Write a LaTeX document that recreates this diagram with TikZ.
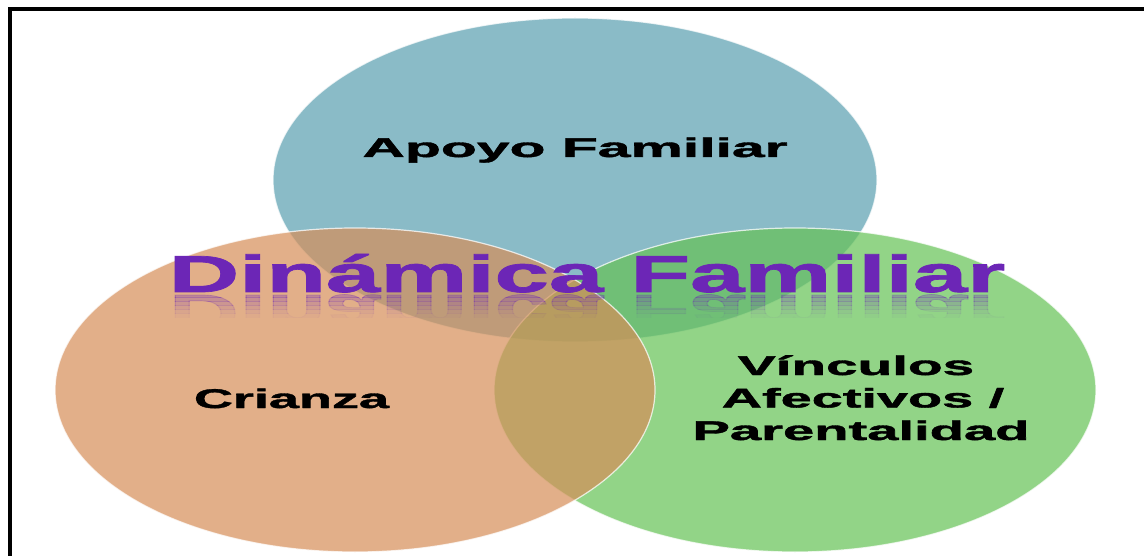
\documentclass[tikz,border=0pt]{standalone}
\usepackage{fontspec}
\setmainfont{Liberation Sans}
\newfontfamily\heavyfont[BoldFeatures={FakeBold=1.3}]{Liberation Sans}
\usetikzlibrary{shapes.geometric}
\definecolor{bluebase}{RGB}{89,159,176}
\definecolor{orangebase}{RGB}{214,142,88}
\definecolor{greenbase}{RGB}{101,194,85}
\definecolor{titlepurple}{RGB}{108,38,182}
\begin{document}
\begin{tikzpicture}[x=1pt,y=-1pt,
  bubble/.style={ellipse, inner sep=0pt, fill opacity=0.7, draw=white, draw opacity=0.75, line width=1.2pt},
  lbl/.style={font=\heavyfont\bfseries\fontsize{27}{33}\selectfont, text=black, inner sep=0pt, anchor=base},
  ttl/.style={font=\heavyfont\bfseries\fontsize{52}{60}\selectfont, text=titlepurple, inner sep=0pt, anchor=base, xscale=1.88}]
\useasboundingbox (0,0) rectangle (1144,556);
\clip (0,0) rectangle (1144,556);
\fill[white] (0,0) rectangle (1144,556);
\draw[line width=3.5pt] (10,600) -- (10,9) -- (1200,9);
% circles
\node[bubble, fill=bluebase, minimum width=604pt, minimum height=324pt] (apoyoE) at (575,180) {};
\node[bubble, fill=greenbase, minimum width=602pt, minimum height=324pt] (vincE) at (795,390) {};
\node[bubble, fill=orangebase, minimum width=600pt, minimum height=324pt] (crianE) at (355,390) {};
% labels
\node[lbl, xscale=2.18] (apoyo) at (575,157) {Apoyo Familiar};
\node[lbl, xscale=2.0] (crianza) at (291.5,408) {Crianza};
\node[lbl, xscale=2.1] (v1) at (856,375) {Vínculos};
\node[lbl, xscale=2.07] (v2) at (863,407.5) {Afectivos /};
\node[lbl, xscale=2.08] (v3) at (861,440) {Parentalidad};
% title and reflection
\node[ttl] (title) at (587,292) {Dinámica Familiar};
\foreach \k/\op in {0/0.30,1/0.24,2/0.18,3/0.12,4/0.07,5/0.03}{
  \begin{scope}
    \clip (0,{294+4*\k}) rectangle (1144,{298+4*\k});
    \node[ttl, yscale=-1, opacity=\op] (ref\k) at (587,295) {Dinámica Familiar};
  \end{scope}
}
\end{tikzpicture}
\end{document}
